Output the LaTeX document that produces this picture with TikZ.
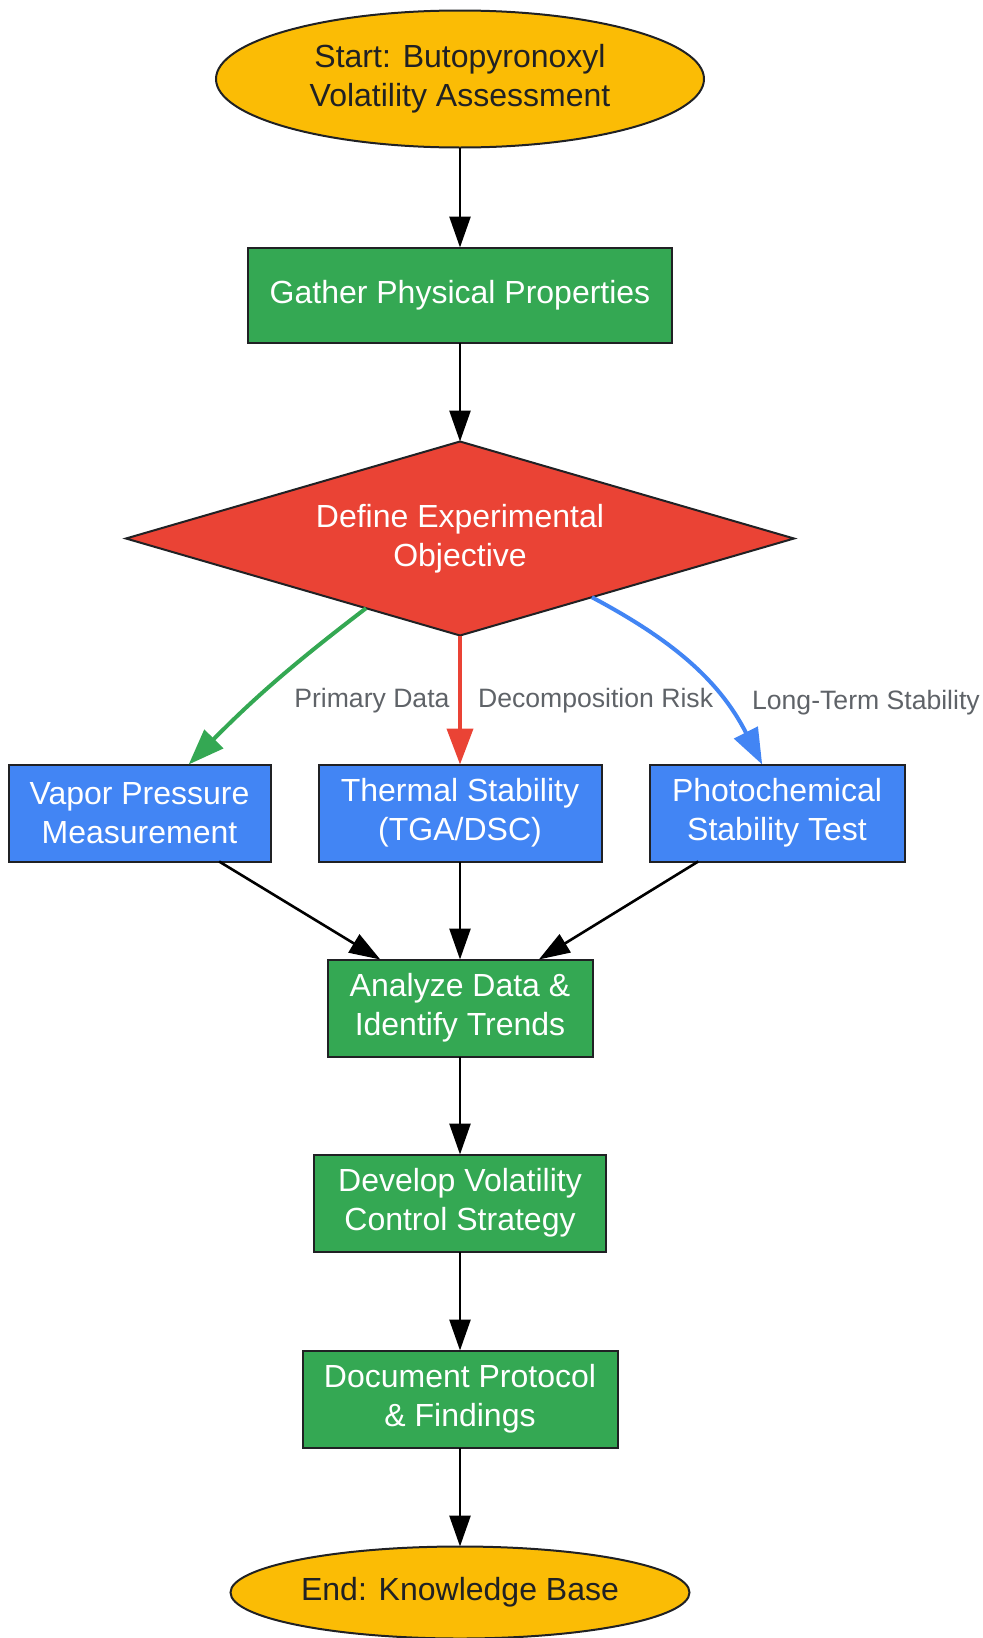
\documentclass[tikz,border=0pt]{standalone}
\usepackage{fontspec}
\setmainfont{Liberation Sans}
\usepackage{xcolor}
\usepackage{tikz}
\usetikzlibrary{shapes.geometric, arrows.meta, positioning}

\definecolor{gyellow}{HTML}{FBBC05}
\definecolor{ggreen}{HTML}{34A853}
\definecolor{gred}{HTML}{EA4335}
\definecolor{gblue}{HTML}{4285F4}
\definecolor{outline}{HTML}{202124}
\definecolor{labelgray}{HTML}{5F6368}

\begin{document}
\begin{tikzpicture}[
    x=0.5pt, y=-0.5pt,
    node distance=49.5pt,
    term/.style={ellipse, draw=outline, line width=1pt, fill=gyellow, text=outline, font=\fontsize{16}{19.3}\selectfont, align=center, inner sep=0pt, outer sep=0pt},
    proc/.style={rectangle, draw=outline, line width=1pt, text=white, font=\fontsize{16}{19.3}\selectfont, align=center, minimum height=48.5pt, inner sep=0pt, outer sep=0pt},
    decide/.style={diamond, aspect=3.4, draw=outline, line width=1pt, fill=gred, text=white, font=\fontsize{16}{19.3}\selectfont, align=center, inner sep=0pt, outer sep=0pt},
    edge/.style={-{Triangle[length=15.5pt,width=10.5pt]}, line width=1.3pt},
    cedge/.style={-{Triangle[length=18pt,width=13pt]}, line width=2pt},
    lbl/.style={font=\fontsize{13.3}{16}\selectfont, text=labelgray, anchor=west}
]
    \useasboundingbox (0,0) rectangle (982,1638);

    \node[term, minimum width=244pt, minimum height=68.5pt] (start) at (460,79) {Start: Butopyronoxyl\\Volatility Assessment};

    \node[proc, fill=ggreen, minimum width=212pt, minimum height=47.5pt, below=50pt of start] (gather) {Gather Physical Properties};
    \draw[edge] (start) -- (gather);

    \node[decide, minimum width=334pt, minimum height=97pt, below=49.5pt of gather] (obj) {Define Experimental\\Objective};
    \draw[edge] (gather) -- (obj);

    \node[proc, fill=gblue, minimum width=141.5pt, below=64.5pt of obj] (thermal) {Thermal Stability\\(TGA/DSC)};
    \node[proc, fill=gblue, minimum width=131pt, left=24pt of thermal] (vapor) {Vapor Pressure\\Measurement};
    \node[proc, fill=gblue, minimum width=127.5pt, right=24pt of thermal] (photo) {Photochemical\\Stability Test};

    \draw[cedge, ggreen] (obj) to[bend right=4] node[lbl, pos=0.58, xshift=12.2pt, yshift=-3pt] {Primary Data} (vapor);
    \draw[cedge, gred] (obj) -- node[lbl, pos=0.49, xshift=4.7pt, yshift=-1pt] {Decomposition Risk} (thermal);
    \draw[cedge, gblue] (obj.-24) to[out=-28, in=117] node[lbl, pos=0.62, xshift=16.4pt, yshift=-8.4pt] {Long-Term Stability} (photo.107);

    \node[proc, fill=ggreen, minimum width=132.5pt, below=49pt of thermal] (analyze) {Analyze Data \&\\Identify Trends};
    \draw[edge] (vapor) -- (analyze);
    \draw[edge] (thermal) -- (analyze);
    \draw[edge] (photo) -- (analyze);

    \node[proc, fill=ggreen, minimum width=146pt, below=49pt of analyze] (develop) {Develop Volatility\\Control Strategy};
    \draw[edge] (analyze) -- (develop);

    \node[proc, fill=ggreen, minimum width=157.5pt, below=49.5pt of develop] (doc) {Document Protocol\\\& Findings};
    \draw[edge] (develop) -- (doc);

    \node[term, minimum width=229.5pt, minimum height=46pt, below=49.5pt of doc] (finish) {End: Knowledge Base};
    \draw[edge] (doc) -- (finish);

\end{tikzpicture}
\end{document}
